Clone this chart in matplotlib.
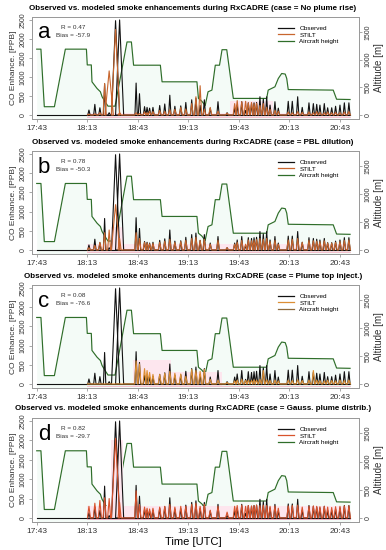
import numpy as np
import matplotlib
matplotlib.use("Agg")
import matplotlib.pyplot as plt
from matplotlib.lines import Line2D

plt.rcParams['font.family'] = ['Liberation Sans', 'DejaVu Sans']

# time axis: minutes after 17:43 UTC
tick_min = [0, 30, 60, 90, 120, 150, 180]
tick_lab = ["17:43", "18:13", "18:43", "19:13", "19:43", "20:13", "20:43"]

# aircraft height (m)
alt_t = [0, 2.5, 4.5, 10.5, 17, 29.5, 30, 32.4, 32.8, 35.8, 37.8, 38.8, 40.7, 42.3,
         46.5, 53.6, 56.2, 57.5, 73.4, 74.4, 95.1, 96, 98, 100, 101.7, 104, 106,
         108.5, 110, 112.8, 116.7, 136.5, 137.4, 141.4, 143.4, 145.4, 147.5, 148.4,
         149.3, 176, 178, 186]
alt_m = [1190, 1190, 150, 150, 1190, 1190, 905, 905, 600, 480, 420, 330, 235, 160,
         160, 1320, 1320, 900, 900, 600, 600, 300, 250, 170, 420, 450, 900,
         900, 1180, 1180, 300, 300, 450, 510, 660, 750, 740, 660,
         460, 450, 285, 280]

# observed CO enhancement peaks (ppb)
obs_t = [31, 34.5, 37.5, 40.3, 43.0, 46.8, 49.2,
         59.0, 61.0, 64.0, 65.5, 67.0, 69.0,
         73.0, 76.0, 79.0, 82.0, 85.5, 88.5,
         92.0, 94.5, 97.0, 99.5, 103.0, 107.6,
         113.0, 117.5, 119.0, 121.7, 124.0, 125.6,
         127.5, 129.0, 130.5, 132.5, 134.5, 136.5,
         138.5, 141.4, 143.4, 149.3, 151.7, 154.9,
         157.6, 161.6, 164.2, 166.2, 168.1, 170.7,
         172.7, 175.1, 177.4, 180.0, 182.6, 185.3]
obs_v = [130, 280, 190, 820, 60, 2480, 2500,
         840, 560, 220, 200, 180, 200,
         250, 290, 520, 230, 240, 330,
         400, 440, 250, 400, 180, 350,
         60, 180, 260, 350, 120, 320,
         300, 320, 330, 480, 420, 480,
         260, 350, 180, 360, 360, 480,
         200, 320, 300, 280, 260, 300,
         190, 190, 230, 260, 320, 320]

# STILT modelled peaks for each case, at the same times
stilt_a = [20, 30, 60, 830, 1160, 2250, 60,
           60, 40, 80, 60, 100, 90,
           120, 100, 140, 150, 200, 160,
           300, 480, 770, 150, 200, 100,
           50, 300, 380, 350, 360, 320,
           330, 300, 310, 250, 300, 200,
           150, 120, 100, 80, 60, 90,
           70, 80, 60, 90, 70, 60,
           80, 60, 70, 60, 80, 90]
stilt_b = [60, 120, 200, 450, 520, 1180, 300,
           450, 300, 200, 180, 160, 170,
           200, 230, 280, 200, 220, 250,
           300, 330, 250, 280, 150, 250,
           60, 150, 200, 250, 150, 260,
           240, 250, 270, 300, 280, 300,
           220, 250, 150, 260, 280, 300,
           200, 250, 240, 230, 220, 240,
           180, 180, 200, 220, 250, 260]
stilt_c = [0, 0, 0, 0, 0, 0, 0,
           600, 520, 400, 350, 300, 250,
           250, 280, 330, 280, 260, 200,
           380, 350, 330, 380, 120, 100,
           40, 80, 100, 120, 90, 100,
           90, 110, 100, 120, 350, 110,
           90, 100, 80, 100, 90, 110,
           90, 100, 350, 100, 90, 80,
           100, 90, 80, 100, 90, 100]
stilt_d = [300, 380, 450, 520, 500, 2050, 400,
           700, 350, 280, 250, 230, 250,
           280, 300, 350, 280, 300, 300,
           350, 380, 300, 350, 200, 300,
           150, 300, 320, 330, 300, 320,
           310, 320, 330, 320, 330, 320,
           300, 310, 250, 310, 320, 330,
           280, 300, 310, 300, 290, 300,
           280, 270, 290, 300, 310, 310]

# pink uncertainty bands: (start, end, top)
pink_a = [(30, 186, 60), (115, 140, 380)]
pink_b = [(30, 186, 150), (44, 51, 600)]
pink_c = [(57, 80, 620), (80, 110, 300)]
pink_d = [(30, 186, 320), (44, 51, 2000)]

cases = ["No plume rise", "PBL dilution", "Plume top inject.", "Gauss. plume distrib."]
letters = ["a", "b", "c", "d"]
r_vals = ["0.47", "0.78", "0.08", "0.82"]
bias_vals = ["-57.9", "-50.3", "-76.6", "-29.7"]
stilts = [stilt_a, stilt_b, stilt_c, stilt_d]
pinks = [pink_a, pink_b, pink_c, pink_d]
stilt_cols = ["#c8662e", "#c8662e", "#dc8e34", "#d8532c"]
height_leg_cols = ["#2f6e2a", "#2f6e2a", "#8f6a3c", "#2f6e2a"]

W, H = 386, 550
box_top = [17, 151, 285, 418]
box_bot = [119, 254, 388, 522]
X0, X1 = 32, 359
GREEN = "#2f6e2a"
GREY = "#9a9a9a"
TXT = "#333333"


def spikes(ts, vs, narrow=0.7, wide=2.4):
    xs, ys = [], []
    for t, v in zip(ts, vs):
        w = wide if v > 1000 else narrow
        xs += [t - w, t, t + w]
        ys += [0, v, 0]
    return xs, ys


fig = plt.figure(figsize=(W / 100, H / 100), dpi=100)

for i in range(4):
    top, bot = box_top[i], box_bot[i]
    ax = fig.add_axes([X0 / W, 1 - bot / H, (X1 - X0) / W, (bot - top) / H])
    ax2 = ax.twinx()
    ax.set_zorder(ax2.get_zorder() + 1)
    ax.patch.set_visible(False)

    # aircraft height
    ax2.fill_between(alt_t, -100, alt_m, color="#f4fbf7", lw=0, zorder=1)
    ax2.plot(alt_t, alt_m, color=GREEN, lw=0.85, zorder=3)
    ax2.set_ylim(-72, 1771)

    # uncertainty shading
    for (t0, t1, lev) in pinks[i]:
        ax.fill_between([t0, t1], -60, lev, color="#fde6ee", lw=0, zorder=1)
    ax.plot([30, 186], [-40, -40], color="#f6b6c8", lw=0.6, zorder=1)

    ox, oy = spikes(obs_t, obs_v)
    ax.plot(ox, oy, color="#111111", lw=0.8, zorder=4)
    sx, sy = spikes(obs_t, stilts[i], narrow=0.9, wide=2.5)
    ax.plot(sx, sy, color=stilt_cols[i], lw=0.8, zorder=5)
    ax.plot([0, 186], [5, 5], color="#111111", lw=0.8, zorder=3)

    ax.set_xlim(-2.8, 191.3)
    ax.set_ylim(-105, 2577)
    ax.set_xticks(tick_min)
    ax.set_xticklabels(tick_lab)
    ax.set_yticks([0, 500, 1000, 1500, 2000, 2500])
    ax.set_yticklabels(["0", "500", "1000", "1500", "2000", "2500"], rotation=90, va="center")
    ax2.set_yticks([0, 500, 1000, 1500])
    ax2.set_yticklabels(["0", "500", "1000", "1500"], rotation=90, va="center")
    for a in (ax, ax2):
        for s in a.spines.values():
            s.set_color(GREY)
            s.set_linewidth(0.7)
        a.tick_params(length=2.5, width=0.6, color=GREY, labelcolor=TXT, labelsize=5, pad=1.5)
    ax.tick_params(axis="x", labelsize=6, pad=2)
    ax.set_ylabel("CO Enhance. [PPB]", fontsize=6, color=TXT, labelpad=2)
    ax2.set_ylabel("Altitude [m]", fontsize=7, color=TXT, labelpad=2)

    fig.text(0.5, 1 - (top - 9) / H,
             "Observed vs. modeled smoke enhancements during RxCADRE (case = " + cases[i] + ")",
             ha="center", va="center", fontsize=5.8, fontweight="bold")
    ax.text(0.018, 0.79, letters[i], transform=ax.transAxes, fontsize=16, va="baseline")
    ax.text(0.125, 0.9, "R = " + r_vals[i], transform=ax.transAxes, fontsize=4.6,
            ha="center", va="center", color=TXT)
    ax.text(0.125, 0.82, "Bias = " + bias_vals[i], transform=ax.transAxes, fontsize=4.6,
            ha="center", va="center", color=TXT)

    handles = [Line2D([], [], color="#111111", lw=0.9),
               Line2D([], [], color=stilt_cols[i], lw=0.9),
               Line2D([], [], color=height_leg_cols[i], lw=0.9)]
    ax.legend(handles, ["Observed", "STILT", "Aircraft height"], loc="upper right",
              bbox_to_anchor=(0.948, 0.95), frameon=False, fontsize=4.6,
              handlelength=2.4, labelspacing=0.2, handletextpad=0.9, borderpad=0)

fig.text(0.5, 1 - 542 / H, "Time [UTC]", ha="center", va="center", fontsize=8)

fig.savefig("out.png", dpi=100)
